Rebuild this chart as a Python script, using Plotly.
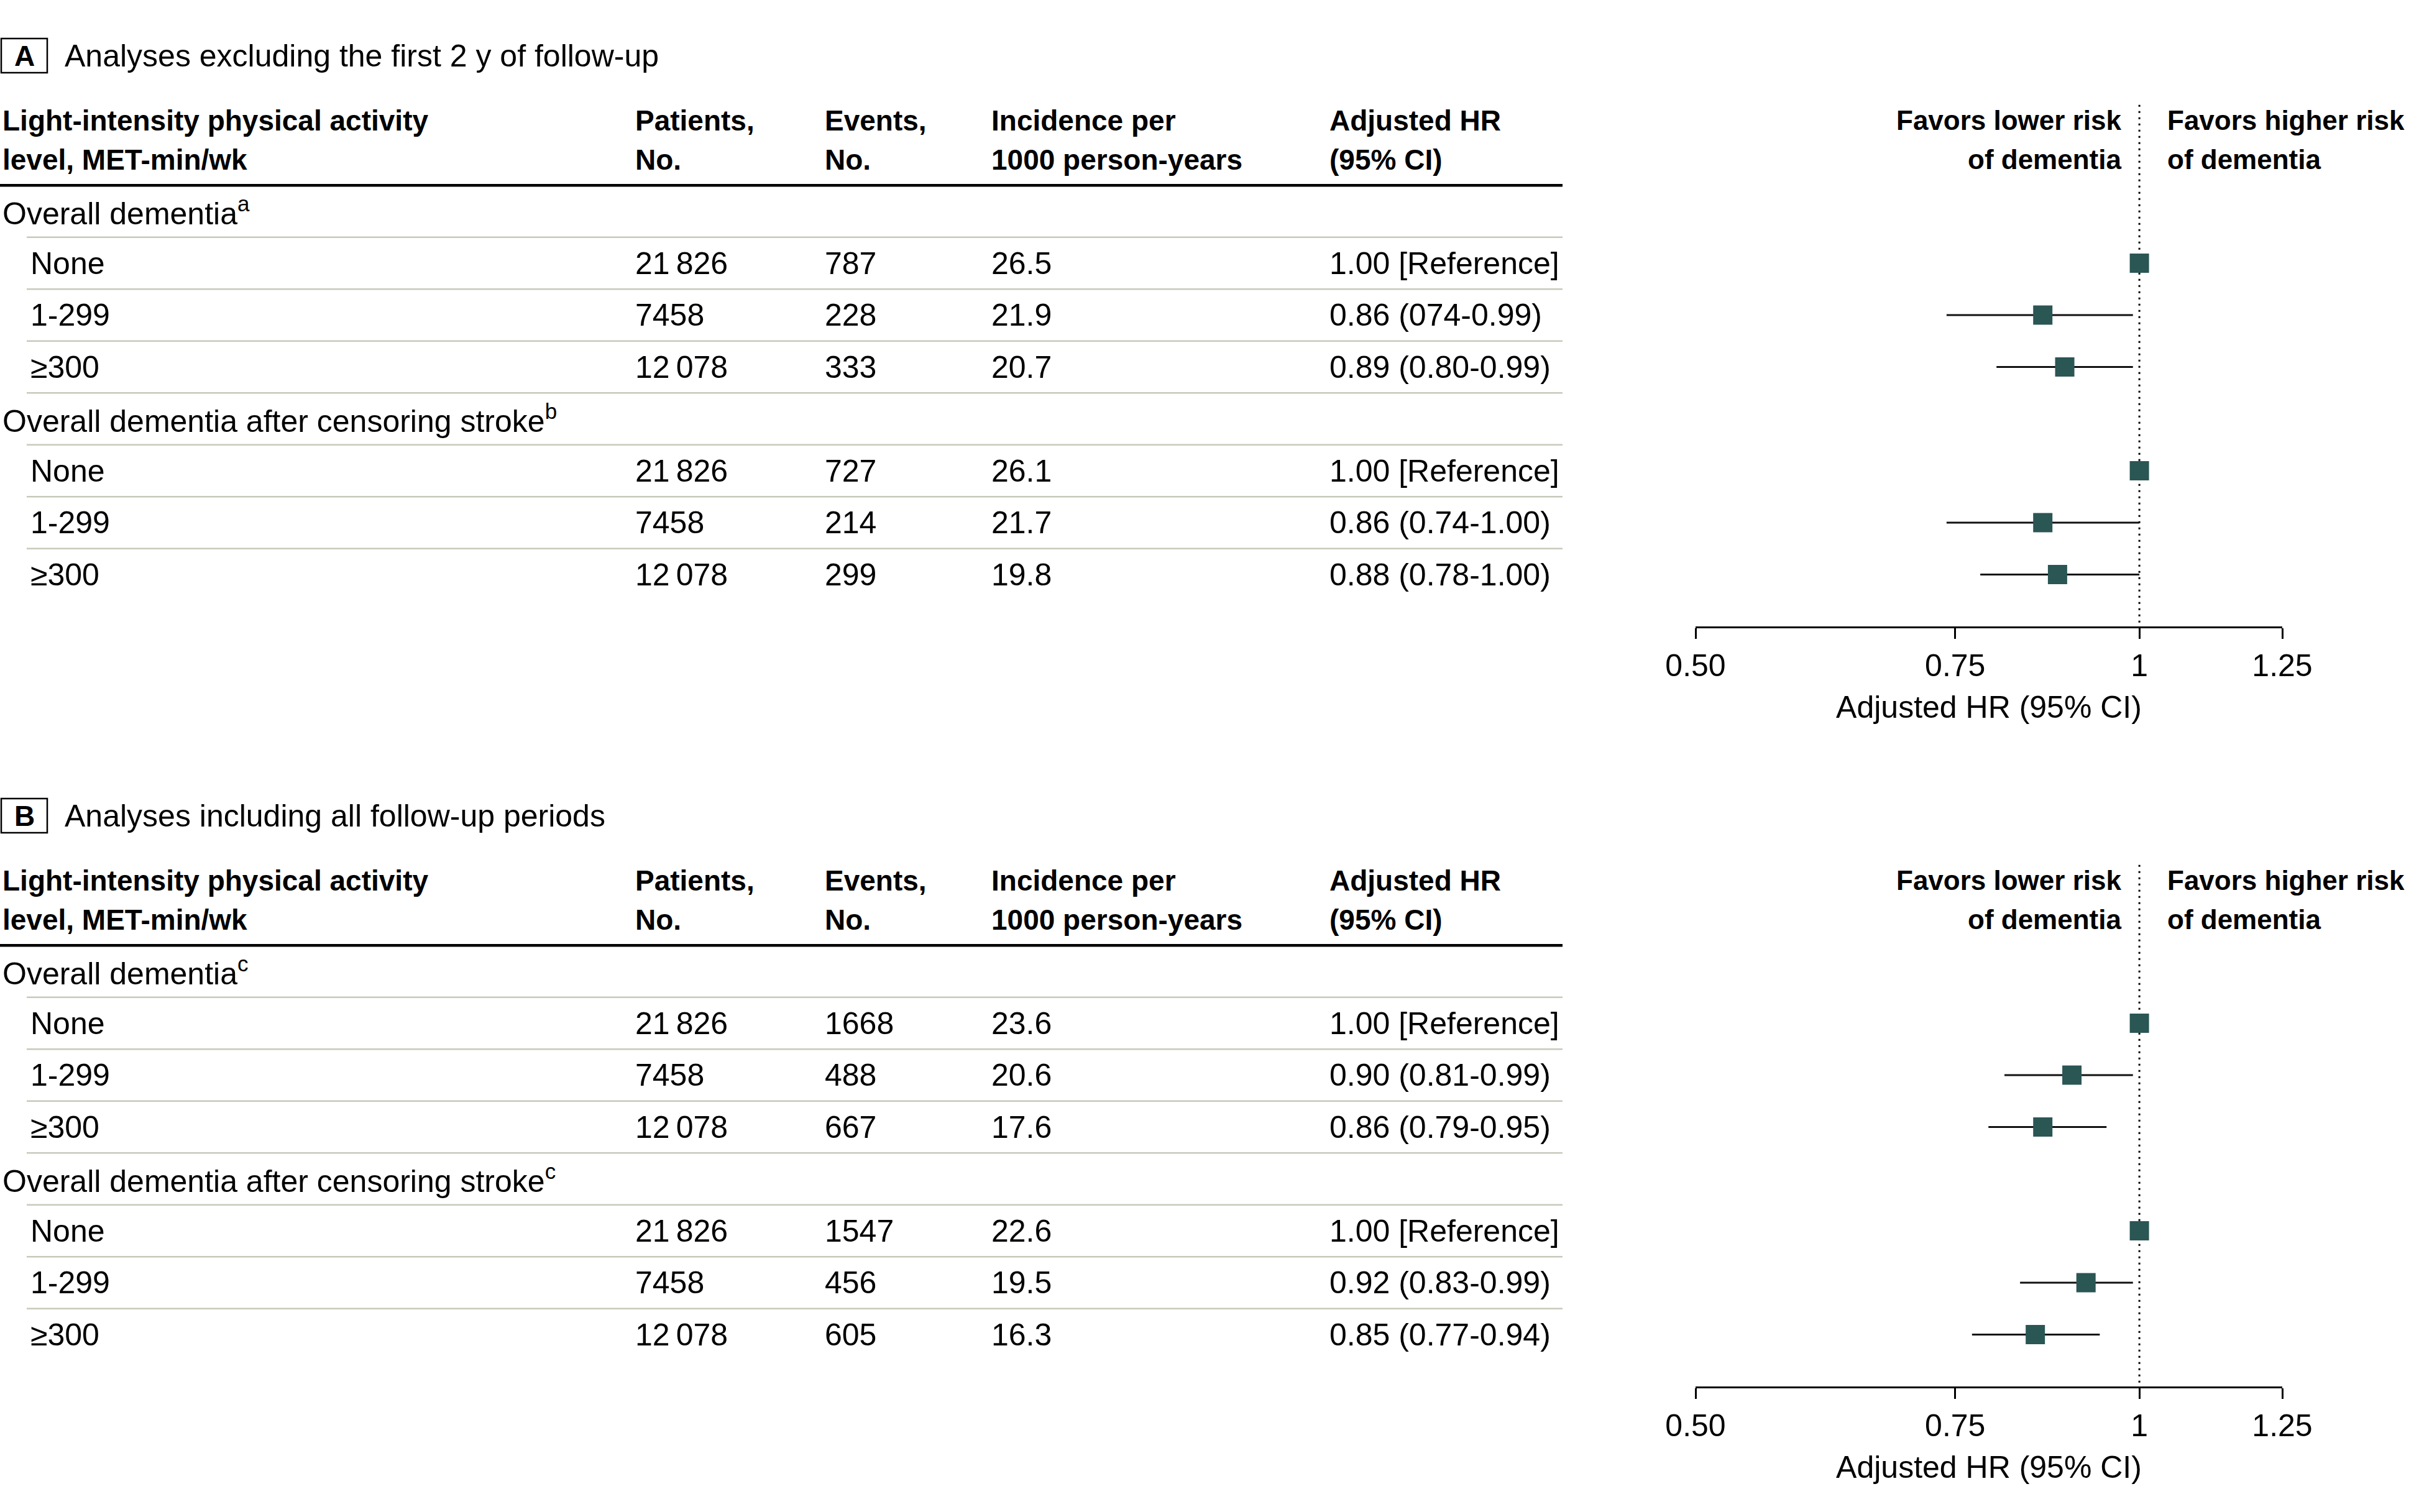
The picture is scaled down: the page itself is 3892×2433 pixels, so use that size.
import math

import plotly.graph_objects as go

# ---- data -------------------------------------------------------------
panel_letters = ["A", "B"]
panel_titles = [
    "Analyses excluding the first 2 y of follow-up",
    "Analyses including all follow-up periods",
]
group_labels = [
    ["Overall dementia<sup>a</sup>", "Overall dementia after censoring stroke<sup>b</sup>"],
    ["Overall dementia<sup>c</sup>", "Overall dementia after censoring stroke<sup>c</sup>"],
]
levels = ["None", "1-299", "≥300"]
patients = [21826, 7458, 12078]

events = [
    [[787, 228, 333], [727, 214, 299]],
    [[1668, 488, 667], [1547, 456, 605]],
]
incidence = [
    [[26.5, 21.9, 20.7], [26.1, 21.7, 19.8]],
    [[23.6, 20.6, 17.6], [22.6, 19.5, 16.3]],
]
hr = [
    [[1.00, 0.86, 0.89], [1.00, 0.86, 0.88]],
    [[1.00, 0.90, 0.86], [1.00, 0.92, 0.85]],
]
ci_low = [
    [[None, 0.74, 0.80], [None, 0.74, 0.78]],
    [[None, 0.81, 0.79], [None, 0.83, 0.77]],
]
ci_high = [
    [[None, 0.99, 0.99], [None, 1.00, 1.00]],
    [[None, 0.99, 0.95], [None, 0.99, 0.94]],
]
hr_text = [
    [["1.00 [Reference]", "0.86 (074-0.99)", "0.89 (0.80-0.99)"],
     ["1.00 [Reference]", "0.86 (0.74-1.00)", "0.88 (0.78-1.00)"]],
    [["1.00 [Reference]", "0.90 (0.81-0.99)", "0.86 (0.79-0.95)"],
     ["1.00 [Reference]", "0.92 (0.83-0.99)", "0.85 (0.77-0.94)"]],
]
header_cols = [
    ("Light-intensity physical activity", "level, MET-min/wk"),
    ("Patients,", "No."),
    ("Events,", "No."),
    ("Incidence per", "1000 person-years"),
    ("Adjusted HR", "(95% CI)"),
]
tick_vals = [0.5, 0.75, 1, 1.25]
tick_text = ["0.50", "0.75", "1", "1.25"]

# ---- layout constants (pixels) -----------------------------------------
W, H = 3892, 2433
ROW_PX = 83.5
Y_TOP, Y_BOTTOM = -3.6, 8.0
AXIS_PX = [1008, 2231]          # pixel row of each forest x-axis line
COL_PX = [2, 1020, 1325, 1593, 2137]
INDENT_PX = 47
TABLE_RIGHT = 2514
X_DOMAIN = [2728 / W, 3672 / W]

FONT = "Liberation Sans, Arial, sans-serif"
TEAL = "#2a5654"
RULE = "#c6cabb"
FS = 50
FS_BOLD = 46
FS_FAVORS = 44


def px(x):
    return x / W


def fmt_n(n):
    return f"{n:,}".replace(",", "\u2009") if n >= 10000 else str(n)


fig = go.Figure()
annotations = []
shapes = []

for p in range(2):
    yref = "y" if p == 0 else "y2"
    xref = "x" if p == 0 else "x2"
    bottom = AXIS_PX[p]
    top = bottom - (Y_BOTTOM - Y_TOP) * ROW_PX
    dom = [(H - bottom) / H, (H - top) / H]

    ax_suffix = "" if p == 0 else "2"
    fig.update_layout(**{
        f"xaxis{ax_suffix}": dict(
            domain=X_DOMAIN, type="log", anchor=yref,
            range=[math.log10(0.5), math.log10(1.25)],
            showline=True, linecolor="black", linewidth=3,
            ticks="outside", ticklen=17, tickwidth=3, tickcolor="black",
            tickvals=tick_vals, ticktext=tick_text,
            showgrid=False, zeroline=False, automargin=False,
            tickfont=dict(size=FS, color="black", family=FONT),
            title=dict(text="Adjusted HR (95% CI)", standoff=22,
                       font=dict(size=FS, color="black", family=FONT)),
        ),
        f"yaxis{ax_suffix}": dict(
            domain=dom, range=[Y_BOTTOM, Y_TOP], visible=False,
            anchor=xref, automargin=False,
        ),
    })

    # panel letter box and title
    shapes.append(dict(type="rect", xref="paper", yref=yref,
                       x0=px(2), x1=px(76), y0=-3.33, y1=-2.67,
                       line=dict(color="black", width=2.5)))
    annotations.append(dict(x=px(39), y=-3.0, xref="paper", yref=yref,
                            text=f"<b>{panel_letters[p]}</b>", showarrow=False,
                            xanchor="center", yanchor="middle",
                            font=dict(size=FS_BOLD, family=FONT, color="black")))
    annotations.append(dict(x=px(102), y=-3.0, xref="paper", yref=yref,
                            text=panel_titles[p], showarrow=False,
                            xanchor="left", yanchor="middle",
                            font=dict(size=FS, family=FONT, color="black")))

    # column headers
    for (l1, l2), cx in zip(header_cols, COL_PX):
        for txt, yy in ((l1, -1.75), (l2, -1.0)):
            annotations.append(dict(x=px(cx), y=yy, xref="paper", yref=yref,
                                    text=f"<b>{txt}</b>", showarrow=False,
                                    xanchor="left", yanchor="middle",
                                    font=dict(size=FS_BOLD, family=FONT, color="black")))
    for txt, yy in (("Favors lower risk", -1.75), ("of dementia", -1.0)):
        annotations.append(dict(x=px(3415), y=yy, xref="paper", yref=yref,
                                text=f"<b>{txt}</b>", showarrow=False,
                                xanchor="right", yanchor="middle",
                                font=dict(size=FS_FAVORS, family=FONT, color="black")))
    for txt, yy in (("Favors higher risk", -1.75), ("of dementia", -1.0)):
        annotations.append(dict(x=px(3485), y=yy, xref="paper", yref=yref,
                                text=f"<b>{txt}</b>", showarrow=False,
                                xanchor="left", yanchor="middle",
                                font=dict(size=FS_FAVORS, family=FONT, color="black")))

    shapes.append(dict(type="line", xref="paper", yref=yref,
                       x0=0, x1=px(TABLE_RIGHT), y0=-0.5, y1=-0.5,
                       line=dict(color="black", width=4.5)))

    ci_x, ci_y, pt_x, pt_y = [], [], [], []
    for g in range(2):
        gy = 4 * g
        annotations.append(dict(x=px(COL_PX[0]), y=gy, xref="paper", yref=yref,
                                text=group_labels[p][g], showarrow=False,
                                xanchor="left", yanchor="middle",
                                font=dict(size=FS, family=FONT, color="black")))
        for i, lvl in enumerate(levels):
            ry = gy + 1 + i
            cells = [lvl, fmt_n(patients[i]), fmt_n(events[p][g][i]),
                     f"{incidence[p][g][i]:.1f}", hr_text[p][g][i]]
            xs = [INDENT_PX] + COL_PX[1:]
            for txt, cx in zip(cells, xs):
                annotations.append(dict(x=px(cx), y=ry, xref="paper", yref=yref,
                                        text=txt, showarrow=False,
                                        xanchor="left", yanchor="middle",
                                        font=dict(size=FS, family=FONT, color="black")))
            pt_x.append(hr[p][g][i])
            pt_y.append(ry)
            if ci_low[p][g][i] is not None:
                ci_x += [ci_low[p][g][i], ci_high[p][g][i], None]
                ci_y += [ry, ry, None]

    for k in range(7):
        shapes.append(dict(type="line", xref="paper", yref=yref,
                           x0=px(43), x1=px(TABLE_RIGHT), y0=k + 0.5, y1=k + 0.5,
                           line=dict(color=RULE, width=2.5)))

    fig.add_trace(go.Scatter(x=[1, 1], y=[-2.05, Y_BOTTOM], mode="lines",
                             line=dict(color="black", width=3, dash="3px,7px"),
                             xaxis=xref, yaxis=yref, showlegend=False, hoverinfo="skip"))
    fig.add_trace(go.Scatter(x=ci_x, y=ci_y, mode="lines",
                             line=dict(color="#111111", width=3),
                             xaxis=xref, yaxis=yref, showlegend=False, hoverinfo="skip"))
    fig.add_trace(go.Scatter(x=pt_x, y=pt_y, mode="markers",
                             marker=dict(symbol="square", size=31, color=TEAL,
                                         line=dict(width=0)),
                             xaxis=xref, yaxis=yref, showlegend=False))

fig.update_layout(
    width=W, height=H,
    margin=dict(l=0, r=0, t=0, b=0, pad=0, autoexpand=False),
    paper_bgcolor="white", plot_bgcolor="white",
    font=dict(family=FONT, color="black", size=FS),
    annotations=annotations, shapes=shapes,
    showlegend=False,
)

# page body has a default 8px margin; drop it so the figure sits at the origin
fig.write_html("out.html", config={"displayModeBar": False},
               post_script="document.body.style.margin = '0';")
